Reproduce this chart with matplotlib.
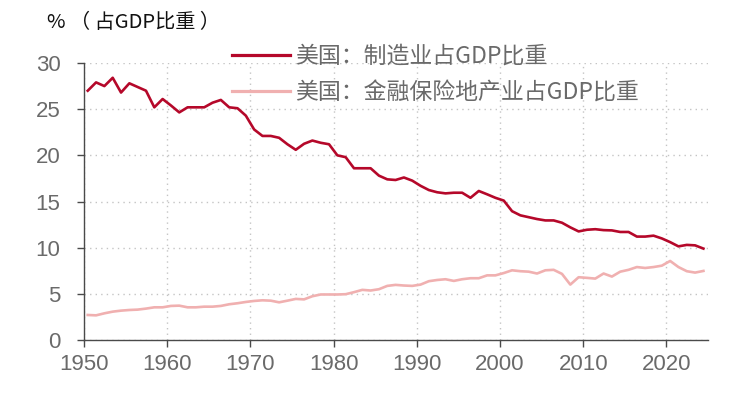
import numpy as np
import matplotlib
matplotlib.use("Agg")
import matplotlib.pyplot as plt

plt.rcParams['font.family'] = ['Noto Sans CJK SC', 'DejaVu Sans']

years = list(range(1950, 2025))
manufacturing = [
    27.0, 27.9, 27.5, 28.4, 26.8, 27.8, 27.4, 27.0, 25.2, 26.1,
    25.4, 24.65, 25.2, 25.2, 25.2, 25.7, 26.0, 25.2, 25.1, 24.3,
    22.8, 22.1, 22.1, 21.9, 21.2, 20.6, 21.25, 21.6, 21.36, 21.2,
    20.0, 19.8, 18.6, 18.6, 18.6, 17.8, 17.4, 17.33, 17.6, 17.26,
    16.7, 16.24, 16.0, 15.88, 15.95, 15.95, 15.4, 16.14, 15.78, 15.4,
    15.1, 13.95, 13.5, 13.3, 13.1, 12.95, 12.95, 12.7, 12.2, 11.76,
    11.94, 12.0, 11.9, 11.87, 11.7, 11.7, 11.2, 11.2, 11.3, 11.0,
    10.6, 10.14, 10.3, 10.25, 9.9,
]
finance = [
    2.71, 2.67, 2.89, 3.07, 3.18, 3.25, 3.29, 3.4, 3.54, 3.54,
    3.69, 3.72, 3.54, 3.54, 3.61, 3.61, 3.69, 3.87, 3.98, 4.12,
    4.23, 4.3, 4.26, 4.08, 4.26, 4.45, 4.4, 4.74, 4.93, 4.93,
    4.93, 4.96, 5.18, 5.43, 5.36, 5.5, 5.86, 5.97, 5.9, 5.86,
    6.0, 6.37, 6.5, 6.58, 6.4, 6.58, 6.69, 6.69, 7.0, 7.0,
    7.25, 7.55, 7.45, 7.4, 7.2, 7.55, 7.6, 7.16, 6.0, 6.8,
    6.73, 6.65, 7.2, 6.87, 7.4, 7.6, 7.9, 7.8, 7.9, 8.05,
    8.56, 7.9, 7.45, 7.3, 7.48,
]
label_mfg = '美国：制造业占GDP比重'
label_fin = '美国：金融保险地产业占GDP比重'
title_text = '% （ 占GDP比重 ）'
xticks = [1950, 1960, 1970, 1980, 1990, 2000, 2010, 2020]
yticks = [0, 5, 10, 15, 20, 25, 30]

red = '#B5082A'
pink = '#F0B0B0'
tick_color = '#6A6A6A'
spine_color = '#4A4A4A'

fig = plt.figure(figsize=(7.42, 3.96), dpi=100)
ax = fig.add_axes([84 / 742, 1 - 340 / 396, (708 - 84) / 742, (340 - 63) / 396])

x = np.array(years) + 0.45
ax.plot(x, finance, color=pink, lw=1.9, label=label_fin, zorder=3)
ax.plot(x, manufacturing, color=red, lw=1.9, label=label_mfg, zorder=4)

ax.set_xlim(1950, 2025)
ax.set_ylim(0, 30)
ax.set_xticks(xticks)
ax.set_yticks(yticks)
ax.set_xticklabels([str(v) for v in xticks])
ax.set_yticklabels([str(v) for v in yticks])

for lab in ax.get_xticklabels() + ax.get_yticklabels():
    lab.set_family(['Liberation Sans', 'DejaVu Sans'])
    lab.set_fontsize(16)
    lab.set_color(tick_color)

ax.tick_params(axis='x', direction='out', length=5, width=1, color=spine_color, pad=5)
ax.tick_params(axis='y', direction='out', length=5, width=1, color=spine_color, pad=12)

ax.grid(True, color='#C4C4C4', linestyle=(0, (1, 3)), linewidth=1.0)
ax.set_axisbelow(True)

for s in ['top', 'right']:
    ax.spines[s].set_visible(False)
for s in ['left', 'bottom']:
    ax.spines[s].set_color(spine_color)
    ax.spines[s].set_linewidth(1.0)

handles, labels = ax.get_legend_handles_labels()
leg = ax.legend(handles[::-1], labels[::-1], loc='upper left',
                bbox_to_anchor=(0.222, 1.098), frameon=False,
                fontsize=16.5, handlelength=2.55, handletextpad=0.2,
                labelspacing=0.58, borderaxespad=0)
for t in leg.get_texts():
    t.set_color(tick_color)
for l in leg.get_lines():
    l.set_linewidth(2.3)

fig.text(47 / 742, 1 - 22 / 396, title_text, fontsize=14.5, color='#111111',
         ha='left', va='center')

fig.savefig('out.png', dpi=100, facecolor='white')
